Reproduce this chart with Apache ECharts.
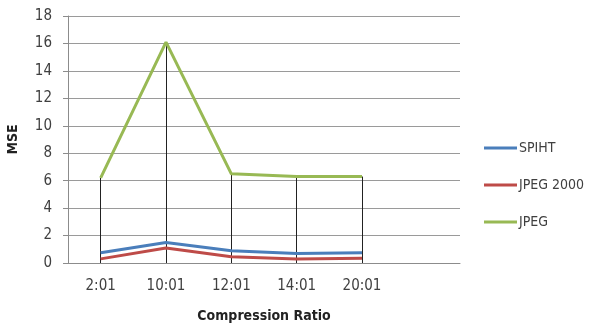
<!DOCTYPE html>
<html>
<head>
<meta charset="utf-8">
<script src="https://cdn.jsdelivr.net/npm/echarts@6/dist/echarts.min.js"></script>
<style>
  html, body { margin: 0; padding: 0; background: #fff; }
  #chart { width: 589px; height: 325px; }
</style>
</head>
<body>
<div id="chart"></div>
<script>
// Compression ratios (the sixth slot is left empty on the axis)
const categories = ['2:01', '10:01', '12:01', '14:01', '20:01', ''];
const spiht    = [0.75, 1.5, 0.9, 0.7, 0.75];
const jpeg2000 = [0.3, 1.1, 0.45, 0.3, 0.35];
const jpeg     = [6.2, 16.1, 6.5, 6.3, 6.3];
const yTicks   = { min: 0, max: 18, interval: 2 };

const FONT = "'DejaVu Sans Condensed', 'Liberation Sans', Arial, sans-serif";
const TEXT = '#404040';

// Drop lines: from the highest point of each category down to zero
const dropLines = jpeg.map((v, i) => {
  const top = Math.max(v, spiht[i], jpeg2000[i]);
  return [{ coord: [i, top] }, { coord: [i, 0] }];
});

const chart = echarts.init(document.getElementById('chart'));
chart.setOption({
  animation: false,
  backgroundColor: '#fff',
  textStyle: { fontFamily: FONT },
  grid: { left: 68, right: 129, top: 16, bottom: 62, containLabel: false, outerBoundsMode: 'none' },
  legend: {
    orient: 'vertical',
    left: 479,
    top: 136,
    itemWidth: 33,
    itemHeight: 3,
    itemGap: 23,
    icon: 'rect',
    textStyle: { fontFamily: FONT, fontSize: 14, color: TEXT, padding: [0, 0, 0, -3] },
    data: ['SPIHT', 'JPEG 2000', 'JPEG']
  },
  xAxis: {
    type: 'category',
    data: categories,
    boundaryGap: true,
    name: 'Compression Ratio',
    nameLocation: 'middle',
    nameGap: 46,
    nameTextStyle: { fontFamily: FONT, fontSize: 14, fontWeight: 'bold', color: '#222' },
    axisLine: { lineStyle: { color: '#8c8c8c', width: 1 } },
    axisTick: { show: false },
    axisLabel: { fontFamily: FONT, fontSize: 15, color: TEXT, margin: 16 },
    splitLine: { show: false }
  },
  yAxis: {
    type: 'value',
    min: yTicks.min,
    max: yTicks.max,
    interval: yTicks.interval,
    name: 'MSE',
    nameLocation: 'middle',
    nameGap: 48,
    nameRotate: 90,
    nameTextStyle: { fontFamily: FONT, fontSize: 14, fontWeight: 'bold', color: '#222' },
    axisLine: { show: true, lineStyle: { color: '#8c8c8c', width: 1 } },
    axisTick: { show: true, length: 5, lineStyle: { color: '#8c8c8c' } },
    axisLabel: { fontFamily: FONT, fontSize: 15, color: TEXT, margin: 16 },
    splitLine: { lineStyle: { color: '#9a9a9a', width: 1 } }
  },
  series: [
    {
      name: 'SPIHT', type: 'line', data: spiht, symbol: 'none',
      color: '#4a7ebb', lineStyle: { width: 3, color: '#4a7ebb' }, z: 3
    },
    {
      name: 'JPEG 2000', type: 'line', data: jpeg2000, symbol: 'none',
      color: '#be4b48', lineStyle: { width: 3, color: '#be4b48' }, z: 3
    },
    {
      name: 'JPEG', type: 'line', data: jpeg, symbol: 'none',
      color: '#98b954', lineStyle: { width: 3, color: '#98b954' }, z: 3,
      markLine: {
        silent: true,
        symbol: ['none', 'none'],
        label: { show: false },
        lineStyle: { color: '#222', width: 1, type: 'solid' },
        z: 2,
        data: dropLines
      }
    }
  ]
});
</script>
</body>
</html>
